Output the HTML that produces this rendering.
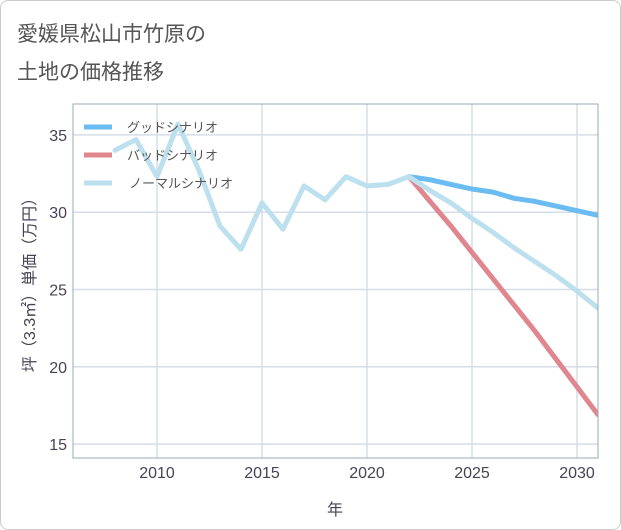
<!DOCTYPE html>
<html><head><meta charset="utf-8">
<style>
body{margin:0;background:#fff;}
#wrap{position:relative;width:619px;height:528px;border:1px solid #ccc;border-radius:8px;background:#fff;overflow:hidden;}
svg text{font-family:"Liberation Sans","Noto Sans CJK JP",sans-serif;}
</style></head>
<body>
<div id="wrap">
<svg id="chart" width="621" height="530">
<text x="16" y="40" font-size="21" fill="#555">愛媛県松山市竹原の</text>
<text x="16" y="78" font-size="21" fill="#555">土地の価格推移</text>
<g id="grid"></g>
<g id="series"></g>
<rect x="72" y="103" width="525" height="354" fill="none" stroke="#9aa8b8" stroke-width="1"/>
<g id="legend"></g>
<text x="334" y="514" font-size="16" fill="#445" text-anchor="middle">年</text>
<text transform="translate(34,280) rotate(-90)" font-size="16" fill="#445" text-anchor="middle">坪（3.3㎡）単価（万円）</text>
</svg>
</div>
<script>
const xTicks=[2010,2015,2020,2025,2030];
const yTicks=[15,20,25,30,35];
const histYears=[2008,2009,2010,2011,2012,2013,2014,2015,2016,2017,2018,2019,2020,2021,2022];
const histValues=[34.0,34.7,32.3,35.7,32.7,29.1,27.6,30.6,28.9,31.7,30.8,32.3,31.7,31.8,32.3];
const futYears=[2022,2023,2024,2025,2026,2027,2028,2029,2030,2031];
const goodValues=[32.3,32.1,31.8,31.5,31.3,30.9,30.7,30.4,30.1,29.8];
const badValues=[32.3,30.7,29.1,27.4,25.7,24.0,22.3,20.5,18.7,16.9];
const normalValues=[32.3,31.4,30.6,29.6,28.7,27.7,26.8,25.9,24.9,23.8];
const NS='http://www.w3.org/2000/svg';
const X0=72,X1=597,Y0=103,Y1=457,xmin=2006,xmax=2031,ymin=14.1,ymax=37.0;
const xs=v=>X0+(v-xmin)/(xmax-xmin)*(X1-X0);
const ys=v=>Y1-(v-ymin)/(ymax-ymin)*(Y1-Y0);
function mk(t,a,p){const e=document.createElementNS(NS,t);for(const k in a)e.setAttribute(k,a[k]);p.appendChild(e);return e;}
const grid=document.getElementById('grid');
xTicks.forEach(v=>{
 const l=mk('line',{x1:xs(v),x2:xs(v),y1:Y0,y2:Y1,stroke:'#d5dde6','stroke-width':1.5},grid);
 
 
 const t=mk('text',{x:xs(v),y:477,'font-size':16,fill:'#445','text-anchor':'middle'},grid);t.textContent=v;
 
 
});
yTicks.forEach(v=>{
 const l=mk('line',{x1:X0,x2:X1,y1:ys(v),y2:ys(v),stroke:'#d5dde6','stroke-width':1.5},grid);
 
 
 const t=mk('text',{x:66,y:ys(v)+6,'font-size':16,fill:'#445','text-anchor':'end'},grid);t.textContent=v;
 
 
});
const ser=document.getElementById('series');
function line(yrs,vals,col,name){
 const d=yrs.map((y,i)=>(i?'L':'M')+xs(y)+','+ys(vals[i])).join(' ');
 const p=mk('path',{d:d,fill:'none',stroke:col,'stroke-width':5,'stroke-linejoin':'round','stroke-linecap':'round'},ser);
 
 
}
const clip=mk('clipPath',{id:'pc'},document.getElementById('chart'));
mk('rect',{x:X0,y:Y0,width:X1-X0,height:Y1-Y0},clip);
ser.setAttribute('clip-path','url(#pc)');
line(futYears,badValues,'#e0868e','bad-scenario-line');
line(futYears,goodValues,'#6bbcf2','good-scenario-line');
line(histYears,histValues,'#bde0ef','normal-history-line');
line(futYears,normalValues,'#bde0ef','normal-scenario-line');
const leg=document.getElementById('legend');
const legNames=['グッドシナリオ','バッドシナリオ','ノーマルシナリオ'];
const legCols=['#6bbcf2','#e0868e','#bde0ef'];
legNames.forEach((n,i)=>{
 const y=126+i*28;
 const g=mk('g',{},leg);
 
 
 mk('line',{x1:83,x2:111,y1:y,y2:y,stroke:legCols[i],'stroke-width':5},g);
 const t=mk('text',{x:i==2?128:126,y:y+5,'font-size':13,fill:'#555'},g);t.textContent=n;
});
</script>
</body></html>
